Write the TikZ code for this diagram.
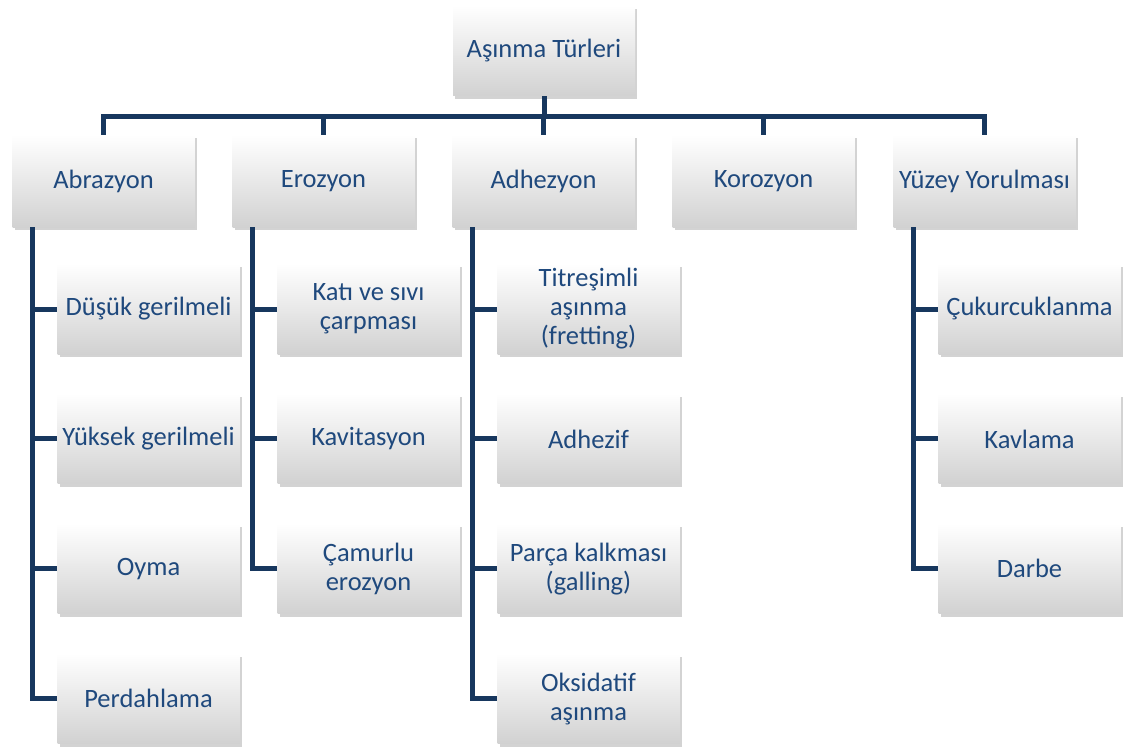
\documentclass[tikz,border=0pt]{standalone}
\usepackage{fontspec}
\setmainfont{Carlito}
\usetikzlibrary{positioning, shadows}
\definecolor{hatmavi}{RGB}{23,55,94}
\definecolor{yazimavi}{RGB}{31,73,125}
\tikzset{
  kutu/.style={minimum width=182pt, minimum height=90pt, inner sep=1pt,
    align=center, text=yazimavi, top color=white, bottom color=black!18,
    font=\fontsize{26.5}{29}\selectfont,
    drop shadow={opacity=0.35, shadow xshift=2pt, shadow yshift=-3pt}},
  hat/.style={draw=hatmavi, line width=5pt},
  altkutu/.style={kutu, below=39.5pt of #1}
}

\begin{document}
\begin{tikzpicture}[x=1pt, y=-1pt]
\useasboundingbox (0,0) rectangle (1126,749);

% ust kutu
\node[kutu] (asinma) at (544,51) {Aşınma Türleri};
\coordinate (bus) at (544,117);

% birinci seviye
\node[kutu, minimum height=92pt] (abr) at (103.5,181) {Abrazyon};
\node[kutu, minimum height=92pt] (ero) at (323.5,181) {Erozyon};
\node[kutu, minimum height=92pt] (adh) at (543.5,181) {Adhezyon};
\node[kutu, minimum height=92pt] (kor) at (763.5,181) {Korozyon};
\node[kutu, minimum height=92pt] (yuz) at (984.5,181) {Yüzey Yorulması};

\foreach \k in {abr,ero,adh,kor,yuz}
  \draw[hat] (asinma.south) -- (bus) -| (\k.north);

% Abrazyon
\node[kutu] (dus) at (148.5,309) {Düşük gerilmeli};
\node[altkutu=dus] (yuk) {Yüksek gerilmeli};
\node[altkutu=yuk] (oym) {Oyma};
\node[altkutu=oym] (per) {Perdahlama};

% Erozyon
\node[kutu] (kat) at (368.5,309) {Katı ve sıvı\\çarpması};
\node[altkutu=kat] (kav) {Kavitasyon};
\node[altkutu=kav] (cam) {Çamurlu\\erozyon};

% Adhezyon
\node[kutu] (tit) at (588.5,309) {Titreşimli\\aşınma\\(fretting)};
\node[altkutu=tit] (adf) {Adhezif};
\node[altkutu=adf] (par) {Parça kalkması\\(galling)};
\node[altkutu=par] (oks) {Oksidatif\\aşınma};

% Yuzey Yorulmasi
\node[kutu] (cuk) at (1029.5,309) {Çukurcuklanma};
\node[altkutu=cuk] (kvl) {Kavlama};
\node[altkutu=kvl] (dar) {Darbe};

% dallar
\foreach \c in {dus,yuk,oym,per}
  \draw[hat] ([xshift=20pt]abr.south west) |- (\c.west);
\foreach \c in {kat,kav,cam}
  \draw[hat] ([xshift=20pt]ero.south west) |- (\c.west);
\foreach \c in {tit,adf,par,oks}
  \draw[hat] ([xshift=20pt]adh.south west) |- (\c.west);
\foreach \c in {cuk,kvl,dar}
  \draw[hat] ([xshift=20pt]yuz.south west) |- (\c.west);
\end{tikzpicture}
\end{document}
